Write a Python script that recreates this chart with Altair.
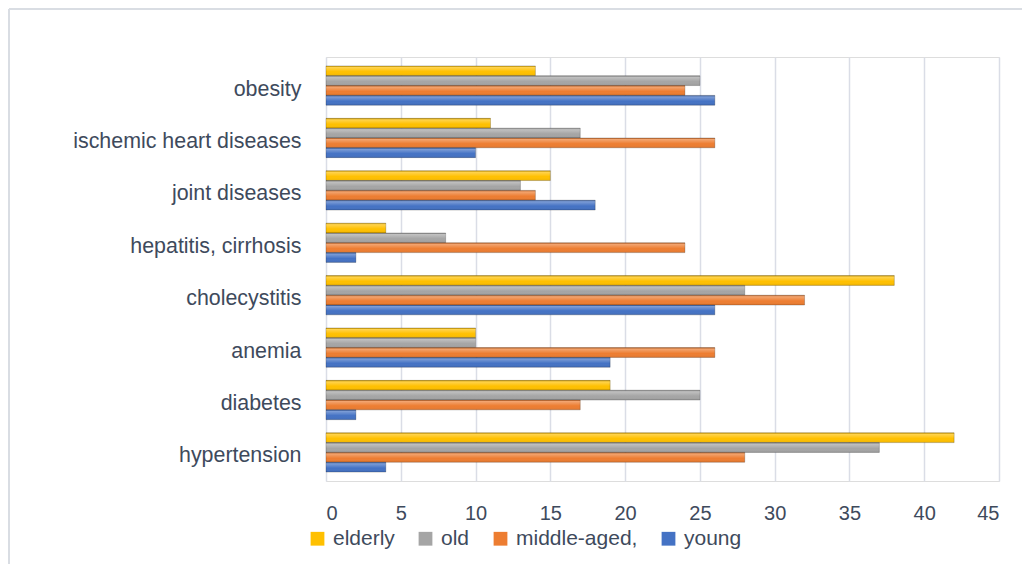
import altair as alt
import pandas as pd

categories = ["obesity", "ischemic heart diseases", "joint diseases ", "hepatitis, cirrhosis ",
              "cholecystitis", "anemia", "diabetes", "hypertension "]
series = ["elderly", "old", "middle-aged,", "\u00a0\u00a0young"]
elderly = [14, 11, 15, 4, 38, 10, 19, 42]
old = [25, 17, 13, 8, 28, 10, 25, 37]
middle_aged = [24, 26, 14, 24, 32, 26, 17, 28]
young = [26, 10, 18, 2, 26, 19, 2, 4]
colors = ["#FFC000", "#A5A5A5", "#ED7D31", "#4472C4"]
x_ticks = [0, 5, 10, 15, 20, 25, 30, 35, 40, 45]

rows = []
for name, vals in zip(series, [elderly, old, middle_aged, young]):
    for c, v in zip(categories, vals):
        rows.append({"disease": c, "group": name, "value": v})
df = pd.DataFrame(rows)

FONT = "Liberation Sans"
TXT = "#3e4a5c"

y_enc = alt.Y("disease:N", sort=categories, title=None,
              scale=alt.Scale(paddingInner=0.25, paddingOuter=0.17),
              axis=alt.Axis(labelFontSize=21.4, labelColor=TXT, labelFont=FONT, ticks=False,
                            domain=False, labelPadding=25, labelLimit=400, labelOffset=4))
x_enc = alt.X("value:Q", title=None,
              scale=alt.Scale(domain=[0, 45], nice=False),
              axis=alt.Axis(values=x_ticks, labelFontSize=20, labelColor=TXT, labelFont=FONT,
                            ticks=False, domain=False, labelPadding=22,
                            gridColor="#dadde6", gridWidth=1.5))
yoff = alt.YOffset("group:N", sort=series)

bars = alt.Chart(df).mark_bar(strokeWidth=0.6, stroke="rgba(0,0,0,0.35)").encode(
    y=y_enc, x=x_enc, yOffset=yoff,
    color=alt.Color("group:N", sort=series,
                    scale=alt.Scale(domain=series, range=colors),
                    legend=alt.Legend(orient="none", legendX=-19, legendY=471,
                                      direction="horizontal", title=None,
                                      labelFontSize=21, labelColor=TXT, labelFont=FONT,
                                      symbolType="square", symbolSize=190,
                                      symbolStrokeWidth=0, columnPadding=20,
                                      labelOffset=5)),
)

shine = alt.Chart(df).mark_bar(
    color=alt.Gradient(gradient="linear",
                       stops=[alt.GradientStop(color="rgba(0,0,0,0.22)", offset=0),
                              alt.GradientStop(color="rgba(255,255,255,0.30)", offset=0.15),
                              alt.GradientStop(color="rgba(255,255,255,0.0)", offset=0.6),
                              alt.GradientStop(color="rgba(0,0,0,0.08)", offset=1)],
                       x1=0, x2=0, y1=0, y2=1)
).encode(y=y_enc, x=x_enc, yOffset=yoff)

one = pd.DataFrame({"a": [0]})
frame_top = alt.Chart(one).mark_rule(stroke="#d9dde3", strokeWidth=2).encode(
    x=alt.value(-317), x2=alt.value(800), y=alt.value(-48))
frame_left = alt.Chart(one).mark_rule(stroke="#d9dde3", strokeWidth=2).encode(
    x=alt.value(-317), y=alt.value(-48), y2=alt.value(700))

chart = alt.layer(frame_top, frame_left, bars, shine).properties(
    width=673, height=424,
    autosize=alt.AutoSizeParams(type="none"),
    padding={"left": 318, "top": 49, "right": 23, "bottom": 83},
).configure_view(strokeWidth=0, stroke="transparent").configure(background="white")

chart.save("out.html", embed_options={"renderer": "svg", "actions": False})
